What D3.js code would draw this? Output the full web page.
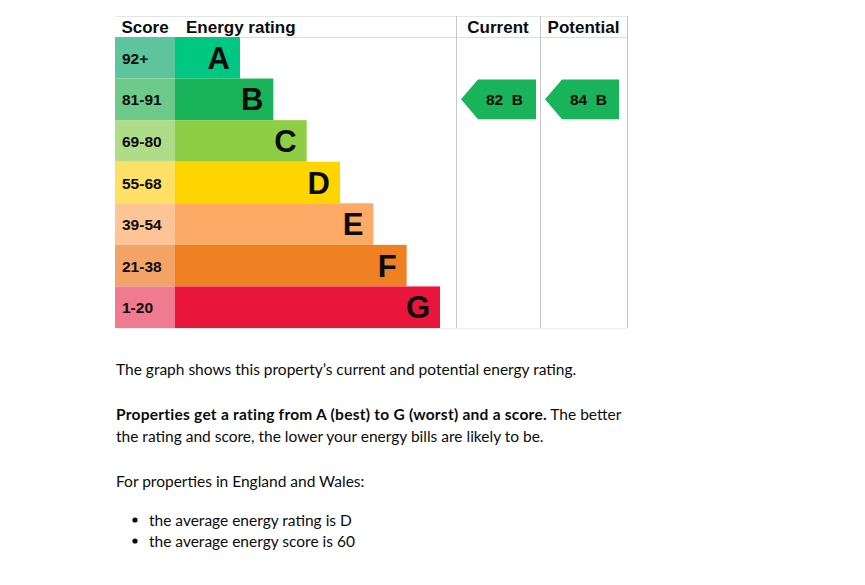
<!DOCTYPE html>
<html>
<head>
<meta charset="utf-8">
<script src="https://cdn.jsdelivr.net/npm/d3@7"></script>
<style>
  body { margin: 0; background: #fff; }
  svg { display: block; }
</style>
</head>
<body>
<svg id="chart"></svg>
<script>
const ratings = ["A", "B", "C", "D", "E", "F", "G"];
const scores = ["92+", "81-91", "69-80", "55-68", "39-54", "21-38", "1-20"];
const barColors = ["#00c781", "#19b459", "#8dce46", "#ffd500", "#fcaa65", "#ef8023", "#e9153b"];
const scoreColors = ["#5ec49e", "#6dca8a", "#afdc89", "#ffe066", "#fdc595", "#f4a367", "#f07a8f"];
const columns = ["Current", "Potential"];
const current = { score: 82, rating: "B" };
const potential = { score: 84, rating: "B" };

const width = 865, height = 585;
const svg = d3.select("#chart").attr("width", width).attr("height", height);

const left = 115, scoreW = 60, topY = 16, headH = 21, tableBottom = 328;
const colX = { rating: 175, current: 456, potential: 540, end: 627 };
const sans = "'Liberation Sans', Arial, sans-serif";

const y = d3.scaleBand().domain(ratings).range([topY + headH, tableBottom]).padding(0);
// bar end position for each rating step
const barEnd = d3.scaleLinear().domain([0, 6]).range([240, 440]);

const g = svg.append("g");

// header text
const head = g.append("g")
  .style("font-family", sans)
  .style("font-weight", "bold")
  .style("font-size", "17px")
  .attr("fill", "#0b0c0c");
head.append("text").attr("x", left + scoreW / 2).attr("y", topY + 17).attr("text-anchor", "middle").text("Score");
head.append("text").attr("x", colX.rating + 11).attr("y", topY + 17).text("Energy rating");
head.append("text").attr("x", (colX.current + colX.potential) / 2).attr("y", topY + 17).attr("text-anchor", "middle").text(columns[0]);
head.append("text").attr("x", (colX.potential + colX.end) / 2).attr("y", topY + 17).attr("text-anchor", "middle").text(columns[1]);

// table lines
g.append("line").attr("x1", left).attr("x2", colX.end).attr("y1", topY + 0.5).attr("y2", topY + 0.5).attr("stroke", "#e6e6e6");
g.append("line").attr("x1", left).attr("x2", colX.end).attr("y1", topY + headH + 0.5).attr("y2", topY + headH + 0.5).attr("stroke", "#dcdcdc");
g.append("line").attr("x1", left).attr("x2", colX.end).attr("y1", tableBottom + 0.5).attr("y2", tableBottom + 0.5).attr("stroke", "#eeeeee");
[colX.current, colX.potential, colX.end].forEach(x => {
  g.append("line").attr("x1", x + 0.5).attr("x2", x + 0.5).attr("y1", topY).attr("y2", tableBottom)
    .attr("stroke", "#c8c8c8");
});

// score cells
g.selectAll("rect.score").data(ratings).join("rect")
  .attr("class", "score")
  .attr("x", left).attr("y", d => y(d))
  .attr("width", scoreW).attr("height", y.bandwidth())
  .attr("fill", (d, i) => scoreColors[i]);

g.selectAll("text.score").data(scores).join("text")
  .attr("class", "score")
  .attr("x", left + 7)
  .attr("y", (d, i) => y(ratings[i]) + y.bandwidth() / 2 + 6)
  .style("font-family", sans)
  .style("font-weight", "bold").style("font-size", "15.5px")
  .attr("fill", "#0b0c0c")
  .text(d => d);

// rating bars
g.selectAll("rect.bar").data(ratings).join("rect")
  .attr("class", "bar")
  .attr("x", colX.rating).attr("y", d => y(d))
  .attr("width", (d, i) => barEnd(i) - colX.rating).attr("height", y.bandwidth())
  .attr("fill", (d, i) => barColors[i]);

g.selectAll("text.letter").data(ratings).join("text")
  .attr("class", "letter")
  .attr("x", (d, i) => barEnd(i) - 10)
  .attr("y", d => y(d) + y.bandwidth() / 2 + 11)
  .attr("text-anchor", "end")
  .style("font-family", sans)
  .style("font-weight", "bold").style("font-size", "31px")
  .attr("fill", "#0b0c0c")
  .text(d => d);

// arrows
function arrow(x0, x1, d) {
  const yy = y(d.rating) + 1, h = y.bandwidth() - 2;
  const tip = 17;
  const pts = [[x0, yy + h / 2], [x0 + tip, yy], [x1, yy], [x1, yy + h], [x0 + tip, yy + h]];
  g.append("polygon").attr("points", pts.map(p => p.join(",")).join(" "))
    .attr("fill", barColors[ratings.indexOf(d.rating)]);
  g.append("text")
    .attr("x", x0 + 25).attr("y", yy + h / 2 + 6)
    .style("font-family", sans)
    .style("font-weight", "bold").style("font-size", "15.5px")
    .style("white-space", "pre")
    .attr("fill", "#0b0c0c")
    .text(d.score + "  " + d.rating);
}
arrow(colX.current + 5, colX.potential - 4, current);
arrow(colX.potential + 5, colX.end - 8, potential);

// description text
const body = svg.append("g")
  .style("font-family", "Lato, 'Noto Sans', sans-serif")
  .style("font-size", "15.5px")
  .attr("fill", "#0b0c0c");

body.append("text").attr("x", 116).attr("y", 375)
  .text("The graph shows this property\u2019s current and potential energy rating.");

const t2 = body.append("text").attr("x", 116).attr("y", 420);
t2.append("tspan").style("font-weight", "bold").style("letter-spacing", "0.25px")
  .text("Properties get a rating from A (best) to G (worst) and a score.");
t2.append("tspan").text(" The better");
body.append("text").attr("x", 116).attr("y", 442)
  .text("the rating and score, the lower your energy bills are likely to be.");

body.append("text").attr("x", 116).attr("y", 487).text("For properties in England and Wales:");

const bullets = ["the average energy rating is D", "the average energy score is 60"];
bullets.forEach((b, i) => {
  body.append("circle").attr("cx", 135).attr("cy", 520 + i * 21).attr("r", 2.6).attr("fill", "#0b0c0c");
  body.append("text").attr("x", 149).attr("y", 526 + i * 21).text(b);
});
</script>
</body>
</html>
